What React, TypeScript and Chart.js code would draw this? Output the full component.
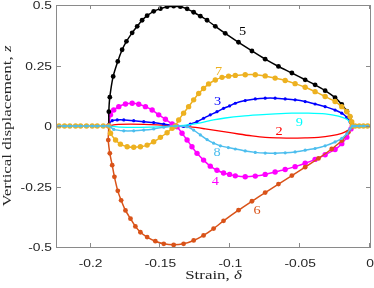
import React, { useEffect, useRef } from 'react';
import { Chart, registerables } from 'chart.js';
Chart.register(...registerables);

// ---- axes ----
const X_MIN = -0.224;
const X_MAX = 0;
const Y_MIN = -0.5;
const Y_MAX = 0.5;
const X_TICKS = [-0.2, -0.15, -0.1, -0.05, 0];
const X_TICK_LABELS = ['-0.2', '-0.15', '-0.1', '-0.05', '0'];
const Y_TICKS = [-0.5, -0.25, 0, 0.25, 0.5];
const Y_TICK_LABELS = ['-0.5', '-0.25', '0', '0.25', '0.5'];

// ---- trivial (flat) branch sample points ----
const FLAT_LEFT_X = [-0.2226, -0.2186, -0.2148, -0.2107, -0.2071, -0.2029, -0.1988, -0.1952, -0.1909];
const FLAT_RIGHT_X = [-0.0107, -0.0077, -0.0047, -0.0017];

// ---- branch 5 (black) ----
const S5_X = [-0.1869, -0.1869, -0.1862, -0.1838, -0.1805, -0.1774, -0.1743, -0.1702, -0.1666, -0.1631, -0.1595, -0.1548, -0.15, -0.1452, -0.1405, -0.1357, -0.1309, -0.1262, -0.1214, -0.1166, -0.1107, -0.1036, -0.0941, -0.0845, -0.075, -0.0655, -0.0559, -0.0464, -0.0393, -0.0321, -0.025, -0.0202, -0.0166, -0.0143, -0.0131, -0.0126];
const S5_Y = [0, 0.059, 0.119, 0.205, 0.267, 0.315, 0.35, 0.385, 0.412, 0.437, 0.456, 0.474, 0.485, 0.493, 0.495, 0.493, 0.484, 0.47, 0.454, 0.437, 0.412, 0.383, 0.346, 0.31, 0.276, 0.246, 0.219, 0.191, 0.17, 0.146, 0.117, 0.089, 0.061, 0.038, 0.013, 0];

// ---- branch 6 (orange-red) ----
const S6_X = [-0.1869, -0.1873, -0.1862, -0.1845, -0.1829, -0.1805, -0.1781, -0.175, -0.1714, -0.1679, -0.1643, -0.1595, -0.1536, -0.1476, -0.1405, -0.1334, -0.1262, -0.1191, -0.1119, -0.1048, -0.0941, -0.0845, -0.075, -0.0655, -0.0559, -0.0464, -0.0369, -0.0274, -0.0202, -0.0155, -0.0126];
const S6_Y = [0, -0.058, -0.113, -0.162, -0.21, -0.268, -0.307, -0.349, -0.383, -0.415, -0.439, -0.459, -0.476, -0.487, -0.491, -0.487, -0.473, -0.452, -0.424, -0.392, -0.348, -0.311, -0.275, -0.24, -0.205, -0.17, -0.134, -0.095, -0.06, -0.026, 0];

// ---- branch 7 (yellow) ----
const S7_X = [-0.1869, -0.1857, -0.1821, -0.1786, -0.1738, -0.1691, -0.1643, -0.1595, -0.1548, -0.15, -0.1452, -0.1416, -0.1393, -0.1369, -0.1334, -0.1298, -0.1262, -0.1226, -0.1191, -0.1155, -0.1107, -0.1059, -0.1012, -0.0964, -0.0893, -0.0821, -0.075, -0.0679, -0.0607, -0.0536, -0.0464, -0.0393, -0.0321, -0.025, -0.0202, -0.0166, -0.0143, -0.0131, -0.0126];
const S7_Y = [0, -0.03, -0.058, -0.075, -0.086, -0.088, -0.086, -0.079, -0.065, -0.047, -0.028, -0.009, 0, 0.025, 0.053, 0.08, 0.108, 0.134, 0.155, 0.174, 0.19, 0.201, 0.206, 0.209, 0.212, 0.212, 0.207, 0.198, 0.188, 0.175, 0.16, 0.142, 0.122, 0.101, 0.08, 0.059, 0.039, 0.018, 0];

// ---- branch 4 (magenta) ----
const S4_X = [-0.1869, -0.1857, -0.1834, -0.1798, -0.175, -0.1702, -0.1655, -0.1607, -0.1559, -0.1512, -0.1464, -0.1416, -0.1393, -0.1381, -0.1345, -0.1309, -0.1274, -0.1238, -0.1191, -0.1143, -0.1095, -0.1048, -0.1005, -0.0964, -0.0893, -0.0821, -0.075, -0.0679, -0.0607, -0.0536, -0.0464, -0.0393, -0.0321, -0.025, -0.0202, -0.0166, -0.0136, -0.0126];
const S4_Y = [0, 0.046, 0.066, 0.08, 0.091, 0.094, 0.09, 0.08, 0.066, 0.046, 0.028, 0.008, 0, -0.003, -0.03, -0.058, -0.086, -0.113, -0.141, -0.166, -0.183, -0.194, -0.2, -0.206, -0.21, -0.207, -0.2, -0.19, -0.18, -0.168, -0.154, -0.138, -0.119, -0.097, -0.073, -0.046, -0.012, 0];

// ---- branch 3 (blue) ----
const S3_X = [-0.1869, -0.1869, -0.1845, -0.1809, -0.1762, -0.1691, -0.1619, -0.1548, -0.1476, -0.1416, -0.1393, -0.1334, -0.1286, -0.1238, -0.1191, -0.1143, -0.1095, -0.1048, -0.1005, -0.0964, -0.0893, -0.0821, -0.075, -0.0679, -0.0607, -0.0536, -0.0464, -0.0393, -0.0321, -0.025, -0.0202, -0.0166, -0.0143, -0.0126];
const S3_Y = [0, 0.008, 0.022, 0.025, 0.025, 0.022, 0.018, 0.014, 0.008, 0.003, 0, -0.002, 0.008, 0.018, 0.032, 0.046, 0.059, 0.073, 0.083, 0.094, 0.105, 0.112, 0.115, 0.115, 0.112, 0.108, 0.101, 0.091, 0.08, 0.066, 0.053, 0.036, 0.018, 0];

// ---- branch 8 (light blue) ----
const S8_X = [-0.1869, -0.1834, -0.1762, -0.1691, -0.1619, -0.1548, -0.1476, -0.1393, -0.1309, -0.1262, -0.1214, -0.1166, -0.1119, -0.1071, -0.1014, -0.0964, -0.0893, -0.0821, -0.075, -0.0679, -0.0607, -0.0536, -0.0464, -0.0393, -0.0321, -0.025, -0.0202, -0.0166, -0.0143, -0.0126];
const S8_Y = [0, -0.014, -0.02, -0.02, -0.017, -0.012, -0.005, 0, -0.003, -0.017, -0.037, -0.056, -0.071, -0.082, -0.089, -0.095, -0.103, -0.109, -0.112, -0.113, -0.111, -0.107, -0.1, -0.093, -0.082, -0.066, -0.051, -0.032, -0.012, 0];

// ---- branch 2 (red, no markers) ----
const S2_X = [-0.1869, -0.1821, -0.1714, -0.1571, -0.1464, -0.1393, -0.1286, -0.1179, -0.1036, -0.0941, -0.0845, -0.075, -0.0655, -0.0559, -0.0464, -0.0369, -0.0274, -0.0202, -0.0155, -0.0131, -0.0126];
const S2_Y = [0, 0.006, 0.008, 0.006, 0.003, 0, -0.004, -0.012, -0.024, -0.033, -0.041, -0.047, -0.049, -0.05, -0.049, -0.047, -0.04, -0.03, -0.017, -0.003, 0];

// ---- branch 9 (cyan, no markers) ----
const S9_X = [-0.1869, -0.1786, -0.1643, -0.15, -0.1393, -0.1286, -0.1214, -0.1121, -0.1036, -0.0916, -0.0798, -0.0679, -0.0559, -0.0441, -0.0321, -0.0226, -0.0166, -0.0131, -0.0126];
const S9_Y = [0, -0.005, -0.006, -0.004, 0, 0.006, 0.013, 0.025, 0.033, 0.041, 0.046, 0.05, 0.053, 0.053, 0.05, 0.041, 0.028, 0.008, 0];

// ---- curve labels ----
const LABEL_TEXT = ['5', '7', '3', '9', '2', '8', '4', '6'];
const LABEL_X = [-0.0912, -0.1084, -0.1091, -0.0505, -0.065, -0.1095, -0.1107, -0.0809];
const LABEL_Y = [0.391, 0.225, 0.1, 0.014, -0.024, -0.109, -0.23, -0.349];
const LABEL_COLOR = ['#000000', '#EDB120', '#0000FF', '#00FFFF', '#FF0000', '#4DBEEE', '#FF00FF', '#D95319'];

const pts = (xs: number[], ys: number[]) => xs.map((x, i) => ({ x, y: ys[i] }));
const withFlat = (xs: number[], ys: number[]) => [
  ...FLAT_LEFT_X.map((x) => ({ x, y: 0 })),
  ...pts(xs, ys),
  ...FLAT_RIGHT_X.map((x) => ({ x, y: 0 })),
];

const TICK_FONT = '"Liberation Sans", Arial, sans-serif';
const SERIF = '"Liberation Serif", "Times New Roman", serif';
const AXIS_COLOR = '#8a8a8a';
const TEXT_COLOR = '#262626';

function stretchText(ctx: any, text: string, x: number, y: number, align: string, sx: number) {
  ctx.save();
  ctx.translate(x, y);
  ctx.scale(sx, 1);
  ctx.textAlign = align;
  ctx.fillText(text, 0, 0);
  ctx.restore();
}

const overlay = {
  id: 'overlay',
  afterDatasetsDraw(chart: any) {
    const { ctx, scales } = chart;
    ctx.save();
    ctx.font = `13px ${SERIF}`;
    ctx.textBaseline = 'middle';
    LABEL_TEXT.forEach((t, i) => {
      ctx.fillStyle = LABEL_COLOR[i];
      stretchText(ctx, t, scales.x.getPixelForValue(LABEL_X[i]), scales.y.getPixelForValue(LABEL_Y[i]), 'center', 1.1);
    });
    ctx.restore();
  },
  afterDraw(chart: any) {
    const { ctx, chartArea, scales } = chart;
    const { left, right, top, bottom } = chartArea;
    ctx.save();
    ctx.strokeStyle = AXIS_COLOR;
    ctx.lineWidth = 1;
    ctx.strokeRect(Math.floor(left) - 0.5, Math.floor(top) + 0.5, Math.round(right - left) + 1, Math.round(bottom - top));
    const TL = 4;
    ctx.beginPath();
    X_TICKS.forEach((v) => {
      const px = Math.round(scales.x.getPixelForValue(v)) - 0.5;
      ctx.moveTo(px, bottom);
      ctx.lineTo(px, bottom - TL);
      ctx.moveTo(px, top);
      ctx.lineTo(px, top + TL);
    });
    Y_TICKS.forEach((v) => {
      const py = Math.round(scales.y.getPixelForValue(v)) + 0.5;
      ctx.moveTo(left, py);
      ctx.lineTo(left + TL, py);
      ctx.moveTo(right, py);
      ctx.lineTo(right - TL, py);
    });
    ctx.stroke();

    // tick labels
    ctx.fillStyle = TEXT_COLOR;
    ctx.font = `11.5px ${TICK_FONT}`;
    ctx.textBaseline = 'alphabetic';
    X_TICKS.forEach((v, i) => {
      stretchText(ctx, X_TICK_LABELS[i], scales.x.getPixelForValue(v), 267, 'center', 1.2);
    });
    Y_TICKS.forEach((v, i) => {
      stretchText(ctx, Y_TICK_LABELS[i], left - 5, scales.y.getPixelForValue(v) + 4.1, 'right', 1.2);
    });

    // axis titles
    const SX = 1.3;
    const reg = `13px ${SERIF}`;
    const ita = `italic 13px ${SERIF}`;
    // x title
    ctx.font = reg;
    const a = 'Strain, ';
    const wa = ctx.measureText(a).width * SX;
    ctx.font = ita;
    const wb = ctx.measureText('δ').width * SX;
    const cx = (left + right) / 2;
    let sx0 = cx - (wa + wb) / 2;
    ctx.font = reg;
    stretchText(ctx, a, sx0, 279, 'left', SX);
    ctx.font = ita;
    stretchText(ctx, 'δ', sx0 + wa, 279, 'left', SX);
    // y title
    ctx.translate(10.5, (top + bottom) / 2);
    ctx.rotate(-Math.PI / 2);
    ctx.font = reg;
    const c = 'Vertical displacement, ';
    const wc = ctx.measureText(c).width * SX;
    ctx.font = ita;
    const wd = ctx.measureText('z').width * SX;
    sx0 = -(wc + wd) / 2;
    ctx.font = reg;
    stretchText(ctx, c, sx0, 0, 'left', SX);
    ctx.font = ita;
    stretchText(ctx, 'z', sx0 + wc, 0, 'left', SX);
    ctx.restore();
  },
};

export default function App() {
  const ref = useRef<HTMLCanvasElement>(null);
  useEffect(() => {
    if (!ref.current) return;
    const line = (data: any[], color: string, radius: number, width = 1.5) => ({
      data,
      showLine: true,
      borderColor: color,
      backgroundColor: color,
      borderWidth: width,
      pointRadius: radius,
      pointBorderWidth: 0,
      pointBackgroundColor: color,
      pointHoverRadius: 0,
      tension: 0.25,
    });
    const chart = new Chart(ref.current, {
      type: 'scatter',
      data: {
        datasets: [
          line(withFlat(S8_X, S8_Y), '#4DBEEE', 1.6),
          line(withFlat(S7_X, S7_Y), '#EDB120', 2.7),
          line(pts(S9_X, S9_Y), '#00FFFF', 0, 1.3),
          line(pts(S6_X, S6_Y), '#D95319', 2.4),
          line(pts(S5_X, S5_Y), '#000000', 2.4),
          line(pts(S4_X, S4_Y), '#FF00FF', 2.7),
          line(pts(S3_X, S3_Y), '#0000FF', 1.6),
          line(pts(S2_X, S2_Y), '#FF0000', 0, 1.3),
        ] as any,
      },
      options: {
        animation: false,
        responsive: false,
        devicePixelRatio: 1,
        layout: { padding: { top: 5, right: 4, left: 0, bottom: 0 } },
        plugins: { legend: { display: false }, tooltip: { enabled: false } },
        events: [],
        scales: {
          x: {
            type: 'linear',
            min: X_MIN,
            max: X_MAX,
            afterBuildTicks: (s: any) => {
              s.ticks = X_TICKS.map((v) => ({ value: v }));
            },
            afterFit: (s: any) => {
              s.height = 41;
              s.paddingLeft = 0;
              s.paddingRight = 0;
            },
            grid: { display: false, drawTicks: false },
            border: { display: false },
            ticks: { display: false },
          },
          y: {
            type: 'linear',
            min: Y_MIN,
            max: Y_MAX,
            afterBuildTicks: (s: any) => {
              s.ticks = Y_TICKS.map((v) => ({ value: v }));
            },
            afterFit: (s: any) => {
              s.width = 57;
              s.paddingTop = 0;
              s.paddingBottom = 0;
            },
            grid: { display: false, drawTicks: false },
            border: { display: false },
            ticks: { display: false },
          },
        },
      } as any,
      plugins: [overlay],
    });
    return () => chart.destroy();
  }, []);
  return (
    <div style={{ position: 'fixed', left: 0, top: 0, width: 374, height: 288, background: '#fff' }}>
      <canvas ref={ref} width={374} height={288} style={{ display: 'block' }} />
    </div>
  );
}
